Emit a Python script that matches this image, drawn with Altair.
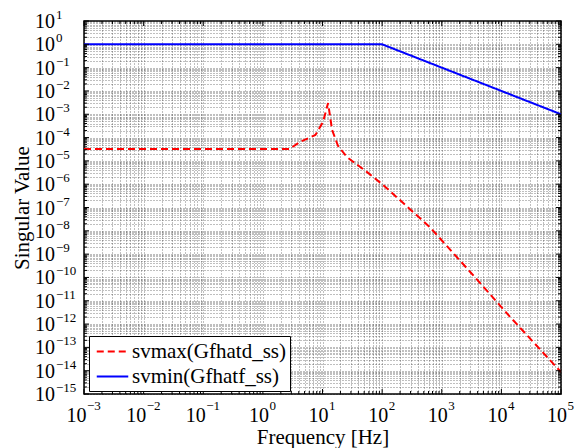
import altair as alt
import pandas as pd

# ---- data ----
freq_svmax = [1e-3, 2.8, 4.2, 7.6, 10.2, 12.4, 14.5, 18.2, 25.7, 56, 105, 630, 3630, 14100, 1e5]
val_svmax = [3.24e-5, 3.24e-5, 6.5e-5, 1.29e-4, 4.7e-4, 3.0e-3, 2.1e-4, 4.4e-5, 1.45e-5,
             3.3e-6, 9.1e-7, 1.45e-8, 1.0e-10, 2.0e-12, 8.7e-15]
freq_svmin = [1e-3, 100, 1e5]
val_svmin = [1.0, 1.0, 1e-3]
series_names = ["svmax(Gfhatd_ss)", "svmin(Gfhatf_ss)"]
series_colors = ["#ff0000", "#0000ff"]

x_exponents = list(range(-3, 6))
y_exponents = list(range(-15, 2))

W, H = 477, 373
FONT = "Liberation Serif"

df = pd.concat([
    pd.DataFrame({"f": freq_svmax, "v": val_svmax, "series": series_names[0]}),
    pd.DataFrame({"f": freq_svmin, "v": val_svmin, "series": series_names[1]}),
])

x_major = [10.0 ** e for e in x_exponents]
y_major = [10.0 ** e for e in y_exponents]
x_minor = [m * 10.0 ** e for e in x_exponents[:-1] for m in range(2, 10)]
y_minor = [m * 10.0 ** e for e in y_exponents[:-1] for m in range(2, 10)]

def sup(e):
    return str(e).replace("-", "\u2212")

xlab = pd.DataFrame({"val": x_major, "exp": x_exponents, "e": [sup(e) for e in x_exponents]})
ylab = pd.DataFrame({"val": y_major, "exp": y_exponents, "e": [sup(e) for e in y_exponents]})

xs = alt.Scale(type="log", domain=[1e-3, 1e5], nice=False)
ys = alt.Scale(type="log", domain=[1e-15, 1e1], nice=False)

grid_kw = dict(grid=True, gridDash=[1, 2], gridColor="#000000", gridOpacity=0.5,
               labels=False, ticks=False, domain=False)

legend_kw = dict(title=None, orient="none", legendX=5, legendY=315,
                 fillColor="white", strokeColor="black", padding=4,
                 symbolType="M-1.5,0H1.5", symbolSize=441, symbolStrokeWidth=2, symbolOffset=8,
                 labelFont=FONT, labelFontSize=21, labelColor="#000",
                 labelOffset=8, labelLimit=0, rowPadding=3)

lines = alt.Chart(df).mark_line(strokeWidth=2, clip=True).encode(
    x=alt.X("f:Q", scale=xs, axis=alt.Axis(values=x_major + x_minor, title="Frequency [Hz]",
                                          titleFont=FONT, titleFontSize=21, titleFontWeight="normal",
                                          titleColor="#000", titleX=W / 2, titleY=49,
                                          titleBaseline="alphabetic", **grid_kw)),
    y=alt.Y("v:Q", scale=ys, axis=alt.Axis(values=y_major + y_minor, title="Singular Value",
                                          titleFont=FONT, titleFontSize=21, titleFontWeight="normal",
                                          titleColor="#000", titleX=-56, titleY=H / 2, titleAngle=-90,
                                          titleAlign="center", titleBaseline="alphabetic", **grid_kw)),
    color=alt.Color("series:N", scale=alt.Scale(domain=series_names, range=series_colors),
                    legend=alt.Legend(**legend_kw)),
    strokeDash=alt.StrokeDash("series:N", scale=alt.Scale(domain=series_names, range=[[7, 4], [1, 0]]),
                              legend=alt.Legend(**legend_kw)),
)

def xticks(vals, length):
    d = pd.DataFrame({"val": vals})
    b = alt.Chart(d).mark_rule(color="black", strokeWidth=1).encode(
        x=alt.X("val:Q", scale=xs), y=alt.value(H), y2=alt.value(H - length))
    t = alt.Chart(d).mark_rule(color="black", strokeWidth=1).encode(
        x=alt.X("val:Q", scale=xs), y=alt.value(0), y2=alt.value(length))
    return [b, t]

def yticks(vals, length):
    d = pd.DataFrame({"val": vals})
    l = alt.Chart(d).mark_rule(color="black", strokeWidth=1).encode(
        y=alt.Y("val:Q", scale=ys), x=alt.value(0), x2=alt.value(length))
    r = alt.Chart(d).mark_rule(color="black", strokeWidth=1).encode(
        y=alt.Y("val:Q", scale=ys), x=alt.value(W), x2=alt.value(W - length))
    return [l, r]

tick_layers = xticks(x_major, 5) + xticks(x_minor, 3) + yticks(y_major, 5) + yticks(y_minor, 3)

base_x = alt.Chart(xlab)
x10_neg = base_x.transform_filter("datum.exp < 0").mark_text(
    font=FONT, fontSize=20, align="right", baseline="middle", dx=2.5, color="#000").encode(
    x=alt.X("val:Q", scale=xs), y=alt.value(H + 21.5), text=alt.value("10"))
xe_neg = base_x.transform_filter("datum.exp < 0").mark_text(
    font=FONT, fontSize=13, align="left", baseline="middle", dx=3, color="#000").encode(
    x=alt.X("val:Q", scale=xs), y=alt.value(H + 12), text="e:N")
x10_pos = base_x.transform_filter("datum.exp >= 0").mark_text(
    font=FONT, fontSize=20, align="right", baseline="middle", dx=6, color="#000").encode(
    x=alt.X("val:Q", scale=xs), y=alt.value(H + 21.5), text=alt.value("10"))
xe_pos = base_x.transform_filter("datum.exp >= 0").mark_text(
    font=FONT, fontSize=13, align="left", baseline="middle", dx=6.5, color="#000").encode(
    x=alt.X("val:Q", scale=xs), y=alt.value(H + 12), text="e:N")

y10 = alt.Chart(ylab).mark_text(font=FONT, fontSize=20, align="right", baseline="middle", dy=1,
                                color="#000").encode(
    y=alt.Y("val:Q", scale=ys), x=alt.value(-29), text=alt.value("10"))
ye = alt.Chart(ylab).mark_text(font=FONT, fontSize=13, align="left", baseline="middle", dy=-6,
                               color="#000").encode(
    y=alt.Y("val:Q", scale=ys), x=alt.value(-28), text="e:N")

chart = alt.layer(lines, *tick_layers, x10_neg, xe_neg, x10_pos, xe_pos, y10, ye).properties(
    width=W, height=H,
    autosize=alt.AutoSizeParams(type="none"),
    padding={"left": 76, "top": 13, "right": 17, "bottom": 62},
).configure(background="white").configure_view(stroke="black", strokeWidth=1.5)

chart.save("out.html", embed_options={"renderer": "svg", "actions": False})
